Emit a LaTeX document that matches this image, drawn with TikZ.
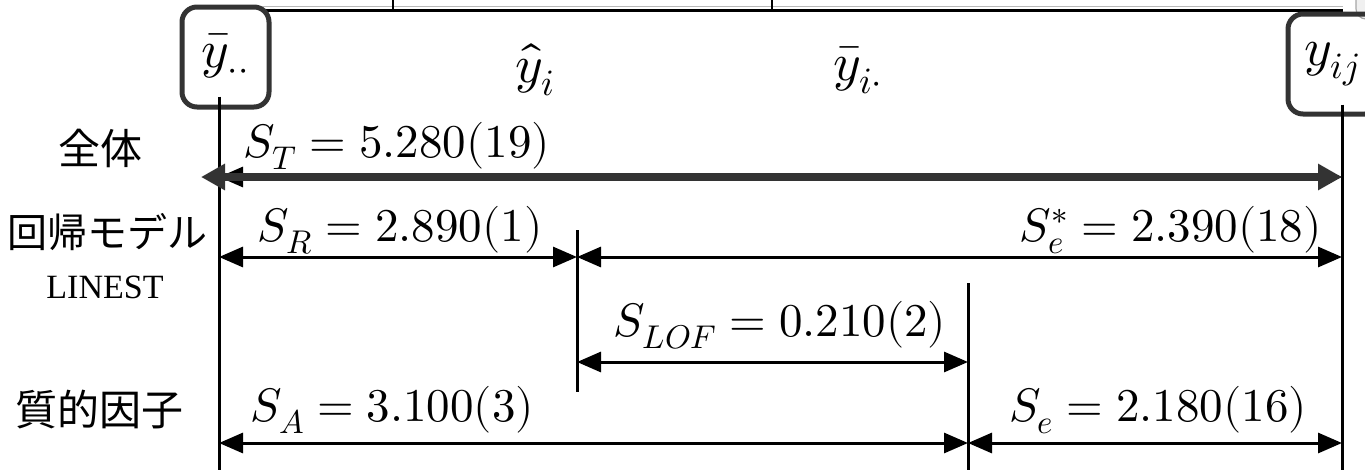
\documentclass[tikz,border=0pt]{standalone}
\usepackage{fontspec}
\usepackage{unicode-math}
\setmainfont{Liberation Serif}
\newfontfamily\jpfont{Noto Sans CJK JP}
\usetikzlibrary{arrows.meta}
\definecolor{boxgray}{HTML}{333333}
\tikzset{
  lbl/.style={inner sep=0pt, font=\fontsize{47}{54}\selectfont},
  toplbl/.style={inner sep=0pt, font=\fontsize{53}{60}\selectfont},
  jplbl/.style={inner sep=0pt, font=\jpfont\fontsize{40}{48}\selectfont},
  serlbl/.style={inner sep=0pt, font=\fontsize{34}{40}\selectfont},
  valbox/.style={draw=boxgray, line width=5pt, rounded corners=15pt, minimum width=87pt, minimum height=100pt, inner sep=0pt, font=\fontsize{53}{60}\selectfont},
  dimline/.style={line width=3pt, {Triangle[length=24pt,width=20pt]}-{Triangle[length=24pt,width=20pt]}},
  thickline/.style={line width=7.5pt, draw=boxgray, {Triangle[length=24pt,width=25pt]}-{Triangle[length=24pt,width=25pt]}},
  vline/.style={line width=3pt}
}
\begin{document}
\begin{tikzpicture}[x=1pt,y=-1pt]
\useasboundingbox (0,0) rectangle (1365,469);
% cropped table border at the top
\draw[gray!55, line width=0.8pt] (262,6.5) -- (1343,6.5);
\draw[line width=3pt] (262,10) -- (1343,10);
\draw[line width=2pt] (393,-2) -- (393,10);
\draw[line width=2pt] (772,-2) -- (772,10);
\draw[fill=gray!12, draw=gray!70, line width=1.2pt, rounded corners=10pt] (1356,-30) rectangle (1400,19);
% coordinates
\coordinate (xL) at (219,0);
\coordinate (xA) at (577,0);
\coordinate (xB) at (968,0);
\coordinate (xR) at (1342,0);
\coordinate (bot) at (0,472);
% value boxes
\node[valbox] (ybar) at (225.5,57) {$\bar{y}_{\cdot\cdot}$};
\node[valbox, minimum width=92pt] (yij) at (1334,64) {$y_{ij}$\hspace*{4pt}};
\node[toplbl] (yhat) at (535,70) {$\hat{y}_i$};
\node[toplbl] (ybari) at (858,70) {$\bar{y}_{i\cdot}$};
% vertical lines
\draw[vline] ([yshift=13pt]ybar.south -| xL) -- (xL |- bot);
\draw[vline] ([yshift=12pt]yij.south -| xR) -- (xR |- bot);
\coordinate (vAtop) at (577,230);
\coordinate (vAbot) at (577,392);
\coordinate (vBtop) at (968,283);
\draw[vline] (vAtop) -- (vAbot);
\draw[vline] (vBtop) -- (xB |- bot);
% row labels
\node[jplbl, font=\jpfont\fontsize{42}{48}\selectfont] (zentai) at (100,148) {全体};
\node[jplbl] (kaiki) at (107,232) {回帰モデル};
\node[serlbl] (linest) at (105,287) {LINEST};
\node[jplbl, font=\jpfont\fontsize{42}{48}\selectfont] (shitsu) at (100,410) {質的因子};
% total
\coordinate (tL) at (219,177);
\coordinate (tLL) at (201,177);
\coordinate (tR) at (1342,177);
\draw[dimline] (tL) -- (tR);
\draw[thickline] (tLL) -- (tR);
\node[lbl, anchor=west] (ST) at (243,146) {$S_T = 5.280(19)$};
% regression row
\coordinate (rL) at (219,257);
\coordinate (rA) at (577,257);
\coordinate (rR) at (1342,257);
\draw[dimline] (rL) -- (rA);
\draw[dimline] (rA) -- (rR);
\node[lbl] (SR) at (400,230) {$S_R = 2.890(1)$};
\node[lbl, anchor=east] (Sestar) at (1322,230) {$S_e^{*} = 2.390(18)$};
% LOF row
\coordinate (lA) at (577,362);
\coordinate (lB) at (968,362);
\draw[dimline] (lA) -- (lB);
\node[lbl] (SLOF) at (780,325) {$S_{LOF} = 0.210(2)$};
% factor row
\coordinate (fL) at (219,443);
\coordinate (fB) at (968,443);
\coordinate (fR) at (1342,443);
\draw[dimline] (fL) -- (fB);
\draw[dimline] (fB) -- (fR);
\node[lbl, anchor=west] (SA) at (250,410) {$S_A = 3.100(3)$};
\node[lbl] (Se) at (1158,410) {$S_e = 2.180(16)$};
\end{tikzpicture}
\end{document}
